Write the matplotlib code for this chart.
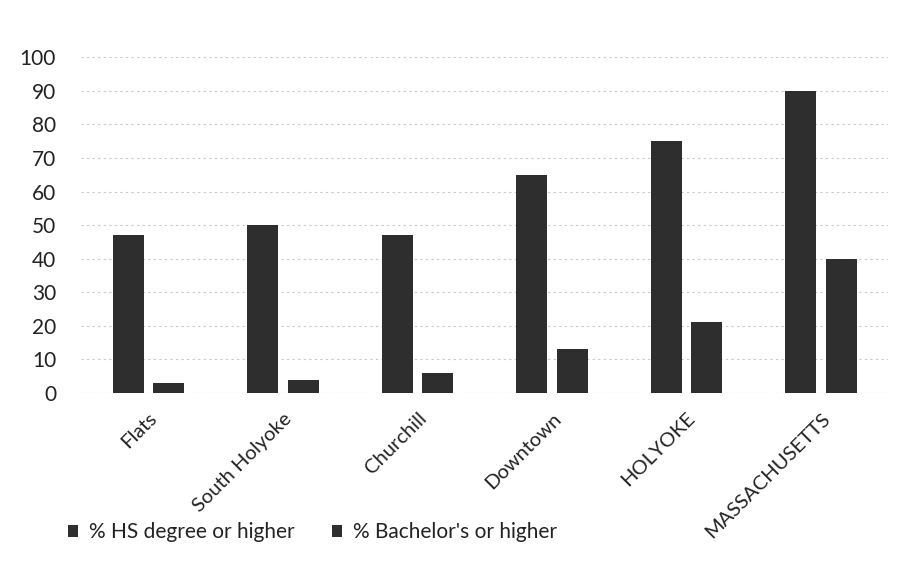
import matplotlib
matplotlib.use('Agg')
from matplotlib import pyplot as plt
import numpy as np

categories = ['Flats', 'South Holyoke', 'Churchill', 'Downtown', 'HOLYOKE', 'MASSACHUSETTS']
hs_degree = [47, 50, 47, 65, 75, 90]
bachelors = [3, 4, 6, 13, 21, 40]
series_labels = ['% HS degree or higher', "% Bachelor's or higher"]
y_ticks = [0, 10, 20, 30, 40, 50, 60, 70, 80, 90, 100]

plt.rcParams['font.family'] = ['Lato', 'DejaVu Sans']

fig = plt.figure(figsize=(9.11, 5.72), dpi=100)
ax = fig.add_axes([0.089, 0.313, 0.886, 0.587])

x = np.arange(len(categories))
bar_w = 0.23
offset = 0.15
bar_color = '#2e2e2e'

ax.bar(x - offset, hs_degree, width=bar_w, color=bar_color, label=series_labels[0], zorder=3)
ax.bar(x + offset, bachelors, width=bar_w, color=bar_color, label=series_labels[1], zorder=3)

ax.set_xlim(-0.5, len(categories) - 0.5)
ax.set_ylim(0, 100)
ax.set_yticks(y_ticks)
ax.tick_params(axis='y', length=0, labelsize=15, pad=18, colors='#222222')
ax.set_xticks(x)
ax.set_xticklabels(categories, rotation=45, ha='right', rotation_mode='anchor',
                   fontsize=14.5, color='#222222')
ax.tick_params(axis='x', length=0, pad=12)

ax.yaxis.grid(True, color='#c8c8c8', linestyle=(0, (2, 3)), linewidth=0.8, zorder=0)
for side in ['top', 'right', 'left', 'bottom']:
    ax.spines[side].set_visible(False)
ax.axhline(0, color='#d0d0d0', linestyle=(0, (2, 3)), linewidth=0.8, zorder=1)

fig.legend(loc='center left', bbox_to_anchor=(0.0746, 0.070), ncol=2, frameon=False,
           fontsize=15, borderpad=0, borderaxespad=0,
           handlelength=0.5, handleheight=0.5, handletextpad=0.5,
           columnspacing=1.8, labelcolor='#222222')

fig.savefig('out.png', dpi=100)
plt.close(fig)
